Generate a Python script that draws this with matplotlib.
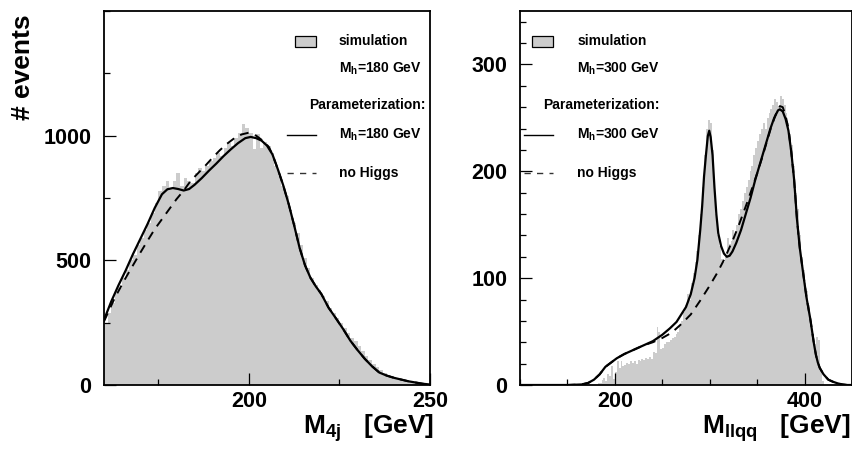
import numpy as np
import matplotlib
matplotlib.use("Agg")
import matplotlib.pyplot as plt
from matplotlib.ticker import MultipleLocator
from matplotlib.patches import Rectangle

plt.rcParams['font.family'] = ['Liberation Sans', 'DejaVu Sans']
plt.rcParams['font.weight'] = 'bold'
plt.rcParams['mathtext.fontset'] = 'custom'
plt.rcParams['mathtext.rm'] = 'Liberation Sans:bold'
plt.rcParams['mathtext.bf'] = 'Liberation Sans:bold'
plt.rcParams['mathtext.it'] = 'Liberation Sans:bold'

# ---- left panel: M_4j, Mh = 180 GeV ----
m4j_start = 160      # first bin edge, 1 GeV bins
m4j_counts = [250, 290, 330, 370, 390, 430, 460, 500, 520, 560,
              590, 620, 650, 690, 730, 780, 800, 820, 790, 820,
              850, 800, 830, 820, 810, 850, 870, 860, 880, 900,
              910, 930, 920, 950, 970, 960, 990, 1010, 1045, 1030,
              1010, 945, 1005, 950, 975, 960, 930, 880, 840, 800,
              760, 700, 650, 610, 560, 510, 470, 430, 400, 380,
              355, 335, 310, 290, 270, 250, 230, 210, 190, 175,
              155, 135, 115, 100, 85, 72, 60, 50, 42, 35,
              30, 25, 22, 18, 15, 12, 10, 8, 6, 5]

m4j_fit_x = [160, 162, 164, 166, 168, 170, 172, 174, 176, 177.5, 179, 180.5, 182,
             183.5, 185, 187, 189, 191, 193, 195, 197, 199, 200.5, 202, 203.5,
             205, 206.5, 208, 209.5, 211, 212.5, 214, 215.5, 217, 218.5, 220,
             222, 224, 226, 228, 230, 232, 234, 236, 238, 240, 242, 244, 246, 248, 250]
m4j_fit_y = [261, 335, 400, 460, 525, 585, 645, 710, 765, 785, 790, 786, 780,
             786, 803, 830, 860, 888, 918, 945, 970, 990, 995, 990, 980,
             960, 925, 865, 800, 725, 640, 550, 480, 430, 395, 365,
             310, 268, 225, 178, 140, 105, 75, 50, 38, 29, 22, 15, 10, 5, 2]

m4j_bkg_x = [160, 163, 166, 168, 170, 172, 174, 176, 178, 180, 182, 184, 186, 188,
             190, 192, 194, 196, 198, 200, 202, 204, 205.5, 206.5, 208, 209.5, 211,
             212.5, 214, 215.5, 217, 218.5, 220, 222, 224, 226, 228, 230, 232, 234,
             236, 238, 240, 242, 244, 246, 248, 250]
m4j_bkg_y = [255, 350, 430, 480, 530, 578, 625, 665, 705, 745, 780, 820, 850, 880,
             912, 942, 968, 990, 1005, 1012, 1000, 978, 955, 925, 865, 800, 725,
             640, 550, 480, 430, 395, 365, 310, 268, 225, 178, 140, 105, 75,
             50, 38, 29, 22, 15, 10, 5, 2]

# ---- right panel: M_llqq, Mh = 300 GeV ----
mllqq_start = 180    # first bin edge, 2 GeV bins
mllqq_counts = [0, 2, 2, 5, 7, 4, 10, 8, 18, 6,
                12, 22, 16, 22, 18, 19, 21, 20, 22, 21,
                22, 20, 23, 22, 24, 23, 25, 24, 26, 24,
                31, 30, 54, 50, 34, 35, 38, 40, 40, 42,
                44, 45, 48, 50, 56, 60, 68, 75, 85, 80,
                95, 105, 115, 125, 140, 160, 185, 215, 240, 248,
                245, 220, 185, 160, 140, 130, 118, 115, 120, 138,
                132, 135, 145, 140, 150, 160, 165, 172, 180, 185,
                192, 200, 205, 215, 222, 228, 235, 240, 245, 240,
                250, 255, 258, 262, 268, 265, 260, 270, 268, 262,
                255, 245, 235, 225, 205, 180, 165, 140, 120, 108,
                95, 88, 75, 60, 48, 38, 45, 42, 15, 4]

mllqq_fit_x = [100, 150, 165, 172, 178, 184, 190, 196, 202, 210, 220, 230, 240,
               250, 258, 265, 270, 275, 280, 284, 287, 290, 292, 294, 296, 298,
               299.5, 301, 303, 305, 307, 309, 312, 315, 318, 321, 324, 328, 333,
               338, 343, 348, 354, 359, 364, 368, 372, 374, 377, 380, 383, 386,
               389, 392, 395, 398, 400, 402, 404, 406, 408, 410, 412, 414, 416,
               420, 425, 430, 435, 440, 445, 450]
mllqq_fit_y = [0, 0, 0.5, 2, 5, 10, 17, 21, 25, 29, 33, 37, 41,
               47, 53, 59, 66, 73, 85, 100, 117, 145, 167, 195, 215, 233,
               238, 232, 215, 185, 160, 142, 130, 123, 120, 121, 125, 133, 145,
               160, 175, 192, 210, 225, 240, 250, 257, 258, 256, 249, 238, 218,
               192, 155, 128, 108, 95, 82, 72, 62, 50, 38, 28, 21, 16,
               10, 5, 3, 1.5, 0.5, 0, 0]

mllqq_bkg_x = [100, 150, 165, 172, 178, 184, 190, 196, 202, 210, 220, 230, 240,
               250, 260, 270, 280, 290, 300, 308, 315, 320, 325, 330, 335, 340,
               345, 350, 355, 360, 365, 370, 374, 377, 380, 383, 386, 389, 392,
               395, 398, 400, 402, 404, 406, 408, 410, 412, 414, 416, 420, 425,
               430, 435, 440, 445, 450]
mllqq_bkg_y = [0, 0, 0.5, 2, 5, 10, 17, 21, 25, 29, 33, 37, 40,
               44, 49, 57, 66, 79, 93, 105, 117, 127, 137, 148, 160, 172,
               185, 198, 212, 227, 242, 254, 261, 260, 252, 240, 218, 192, 155,
               128, 108, 95, 82, 72, 62, 50, 38, 28, 21, 16, 10, 5,
               3, 1.5, 0.5, 0, 0]

fill_col = '#cccccc'

fig = plt.figure(figsize=(8.53, 4.59), dpi=100)
ax1 = fig.add_axes([104/853, 74/459, 326/853, 374/459])
ax2 = fig.add_axes([520/853, 74/459, 332/853, 374/459])


def draw_panel(ax, start, width, counts, fx, fy, bx, by):
    edges = start + width * np.arange(len(counts) + 1)
    ax.stairs(counts, edges, fill=True, color=fill_col, lw=0)
    ax.plot(bx, by, color='black', lw=1.4, ls=(0, (4.5, 3.5)))
    ax.plot(fx, fy, color='black', lw=1.6)
    for s in ax.spines.values():
        s.set_linewidth(1.3)
    ax.tick_params(which='both', direction='in', top=False, right=False,
                   labelsize=15.5, width=0.9)
    ax.tick_params(which='major', length=8.5)
    ax.tick_params(axis='y', which='major', pad=9)
    ax.tick_params(axis='x', which='major', pad=4)
    ax.tick_params(which='minor', length=4.5)


def legend(ax, x_box, x_line, x_text, x_par, mh):
    ax.add_patch(Rectangle((x_box, 0.904), 0.064, 0.029, transform=ax.transAxes,
                           facecolor=fill_col, edgecolor='black', lw=0.9))
    kw = dict(transform=ax.transAxes, fontsize=10, fontweight='bold', va='center')
    ax.text(x_text, 0.919, 'simulation', **kw)
    ax.text(x_text, 0.845, r'$\mathbf{M}_{\mathbf{h}}$=%d GeV' % mh, **kw)
    ax.text(x_par, 0.749, 'Parameterization:', **kw)
    ax.plot([x_line, x_box + 0.064], [0.668, 0.668], transform=ax.transAxes,
            color='black', lw=1.0)
    ax.text(x_text, 0.668, r'$\mathbf{M}_{\mathbf{h}}$=%d GeV' % mh, **kw)
    ax.plot([x_line, x_box + 0.064], [0.567, 0.567], transform=ax.transAxes,
            color='black', lw=1.0, ls=(0, (4.5, 4.5)), alpha=0.8)
    ax.text(x_text, 0.567, 'no Higgs', **kw)


draw_panel(ax1, m4j_start, 1, m4j_counts, m4j_fit_x, m4j_fit_y, m4j_bkg_x, m4j_bkg_y)
ax1.set_xlim(160, 250)
ax1.set_ylim(0, 1500)
ax1.set_xticks([200, 250])
ax1.set_yticks([0, 500, 1000])
ax1.xaxis.set_minor_locator(MultipleLocator(25))
ax1.yaxis.set_minor_locator(MultipleLocator(250))
legend(ax1, 0.586, 0.561, 0.721, 0.629, 180)

draw_panel(ax2, mllqq_start, 2, mllqq_counts, mllqq_fit_x, mllqq_fit_y, mllqq_bkg_x, mllqq_bkg_y)
ax2.set_xlim(100, 450)
ax2.set_ylim(0, 350)
ax2.set_xticks([200, 400])
ax2.set_yticks([0, 100, 200, 300])
ax2.xaxis.set_minor_locator(MultipleLocator(50))
ax2.yaxis.set_minor_locator(MultipleLocator(20))
legend(ax2, 0.036, 0.012, 0.172, 0.069, 300)

for ax in (ax1, ax2):
    for lab in ax.get_xticklabels() + ax.get_yticklabels():
        lab.set_fontweight('bold')

fig.text(23/853, 1 - 67/459, '# events', rotation=90, ha='center', va='center',
         fontsize=19, fontweight='bold')
fig.text(434/853, 25/459, r'$\mathbf{M}_{\mathbf{4j}}$   [GeV]', ha='right',
         va='baseline', fontsize=19, fontweight='bold')
fig.text(851/853, 25/459, r'$\mathbf{M}_{\mathbf{llqq}}$   [GeV]', ha='right',
         va='baseline', fontsize=19, fontweight='bold')

fig.savefig('out.png', dpi=100)
